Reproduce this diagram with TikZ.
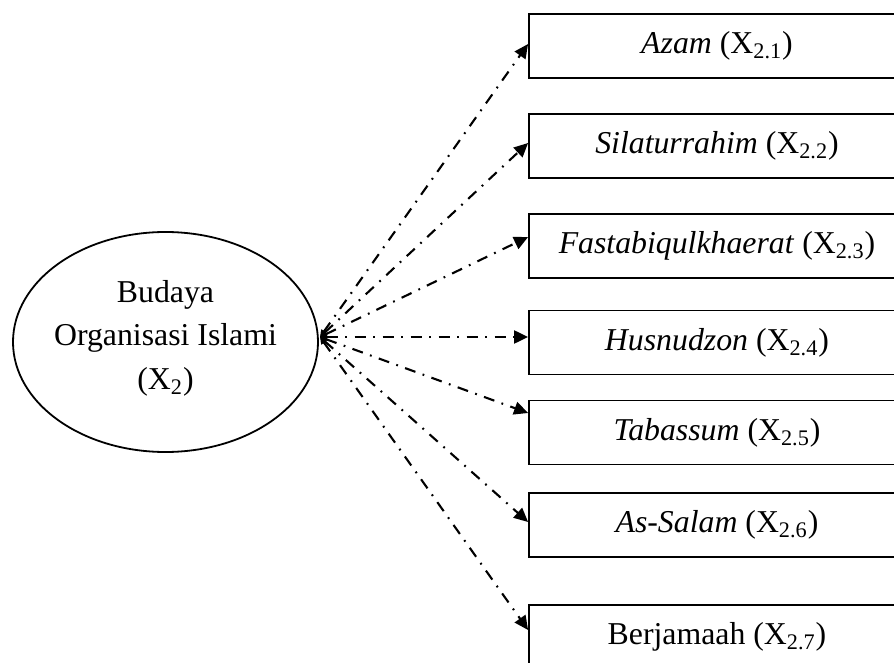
\documentclass[tikz,border=0pt]{standalone}
\usepackage{fontspec}
\setmainfont{Liberation Serif}
\usetikzlibrary{arrows.meta,calc,shapes.geometric}

\begin{document}
\begin{tikzpicture}[
  x=0.5pt, y=-0.5pt,
  every node/.style={font=\fontsize{15.9}{21.8}\selectfont},
  construct/.style={draw, line width=0.9pt, ellipse, minimum width=152.5pt, minimum height=110pt, inner sep=0pt},
  label text/.style={align=center, inner sep=0pt},
  indicator/.style={draw, line width=0.9pt, rectangle, minimum width=188pt, minimum height=32pt, inner sep=0pt, anchor=center},
  link/.style={line width=1.05pt, dash pattern=on 5.5pt off 3.8pt on 0.9pt off 3.8pt,
    {Triangle[length=3.5pt,width=3.2pt]}-{Triangle[length=7pt,width=6.5pt]}}
]
\clip (0,0) rectangle (894,663);

% latent construct
\node[construct] (X2) at (165.5,342) {};
\node[label text] (X2txt) at (165.5,338) {Budaya\\Organisasi Islami\\(X\textsubscript{2})};
\coordinate (hub) at (320,337);

% indicators
\node[indicator] (b1) at (717,46)    {\textit{Azam} (X\textsubscript{2.1})};
\node[indicator] (b2) at (717,146)   {\textit{Silaturrahim} (X\textsubscript{2.2})};
\node[indicator] (b3) at (717,246)   {\textit{Fastabiqulkhaerat} (X\textsubscript{2.3})};
\node[indicator] (b4) at (717,342.5) {\textit{Husnudzon} (X\textsubscript{2.4})};
\node[indicator] (b5) at (717,432.5) {\textit{Tabassum} (X\textsubscript{2.5})};
\node[indicator] (b6) at (717,525)   {\textit{As-Salam} (X\textsubscript{2.6})};
\node[indicator] (b7) at (717,637)   {Berjamaah (X\textsubscript{2.7})};

% loadings
\draw[link] (hub) -- ($(b1.west)+(0,-2)$);
\draw[link] (hub) -- ($(b2.west)+(0,-3)$);
\draw[link] (hub) -- ($(b3.west)+(0,-9)$);
\draw[link] (hub) -- ($(b4.west)+(0,-5.5)$);
\draw[link] (hub) -- ($(b5.west)+(0,-19.5)$);
\draw[link] (hub) -- ($(b6.west)+(0,-3)$);
\draw[link] (hub) -- ($(b7.west)+(0,-7)$);
\end{tikzpicture}
\end{document}
